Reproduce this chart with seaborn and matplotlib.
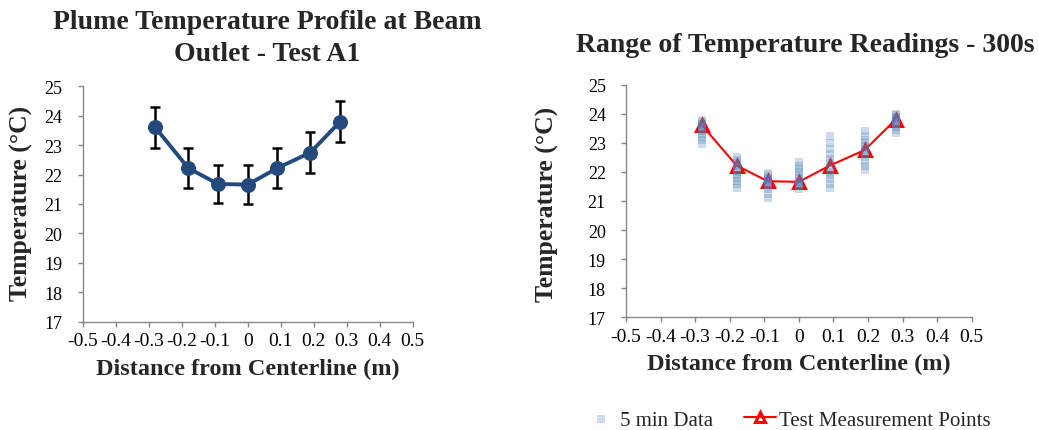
import numpy as np
import pandas as pd
import matplotlib
matplotlib.use("Agg")
import matplotlib.pyplot as plt
import seaborn as sns

sns.set_style("white")
plt.rcParams["font.family"] = ["Liberation Serif", "DejaVu Serif"]

# Measured plume temperatures across the beam outlet
positions = [-0.28, -0.18, -0.09, 0.0, 0.09, 0.19, 0.28]
temps = [23.6, 22.22, 21.68, 21.66, 22.22, 22.75, 23.8]
temp_err = [0.7, 0.68, 0.65, 0.65, 0.68, 0.68, 0.7]

# Temperature readings logged over 5 minutes at each position
readings_m028 = [22.95, 23.1, 23.2, 23.3, 23.4, 23.45, 23.5, 23.55, 23.6, 23.65, 23.7, 23.8]
readings_m018 = [21.45, 21.6, 21.7, 21.8, 21.9, 22.0, 22.1, 22.2, 22.25, 22.3, 22.4, 22.5]
readings_m009 = [21.1, 21.25, 21.4, 21.5, 21.55, 21.6, 21.65, 21.7, 21.75, 21.8, 21.9, 21.95]
readings_000 = [21.4, 21.5, 21.55, 21.6, 21.65, 21.7, 21.8, 21.9, 22.0, 22.1, 22.2, 22.35]
readings_p009 = [21.45, 21.6, 21.75, 21.9, 22.0, 22.15, 22.3, 22.45, 22.6, 22.8, 23.0, 23.25]
readings_p019 = [22.05, 22.2, 22.35, 22.5, 22.6, 22.7, 22.8, 22.9, 23.0, 23.1, 23.25, 23.4]
readings_p028 = [23.35, 23.45, 23.55, 23.6, 23.65, 23.7, 23.75, 23.8, 23.85, 23.9, 23.95, 24.0]

x_ticks = [-0.5, -0.4, -0.3, -0.2, -0.1, 0.0, 0.1, 0.2, 0.3, 0.4, 0.5]
x_tick_labels = ["-0.5", "-0.4", "-0.3", "-0.2", "-0.1", "0", "0.1", "0.2", "0.3", "0.4", "0.5"]
y_ticks = list(range(17, 26))

profile = pd.DataFrame({"x": positions, "t": temps, "err": temp_err})
all_readings = [readings_m028, readings_m018, readings_m009, readings_000,
                readings_p009, readings_p019, readings_p028]
five_min = pd.DataFrame(
    [(p, v) for p, vals in zip(positions, all_readings) for v in vals],
    columns=["x", "t"],
)

W, H = 1039, 431
fig = plt.figure(figsize=(W / 100, H / 100), dpi=100)
ax1 = fig.add_axes([82.7 / W, 1 - 322.7 / H, 330 / W, 235.4 / H])
ax2 = fig.add_axes([626 / W, 1 - 318.3 / H, 345.7 / W, 232.6 / H])

axis_gray = "#868686"


def style_axes(ax, ylabel_x, ylabel_y):
    ax.set_xlim(-0.5, 0.5)
    ax.set_ylim(17, 25)
    ax.set_xticks(x_ticks)
    ax.set_xticklabels(x_tick_labels)
    ax.set_yticks(y_ticks)
    for side in ("top", "right"):
        ax.spines[side].set_visible(False)
    for side in ("left", "bottom"):
        ax.spines[side].set_color(axis_gray)
        ax.spines[side].set_linewidth(1.0)
    ax.tick_params(axis="both", direction="out", length=3.5, width=1.0,
                   color=axis_gray, labelcolor="black",
                   left=True, bottom=True)
    ax.tick_params(axis="x", labelsize=14, pad=4)
    ax.tick_params(axis="y", labelsize=13, pad=11)
    ax.set_xlabel("Distance from Centerline (m)", fontsize=17.5,
                  fontweight="bold", labelpad=6)
    ax.set_ylabel("Temperature (°C)", fontsize=18.5, fontweight="bold")
    ax.yaxis.set_label_coords(ylabel_x, ylabel_y)


# Left: profile with error bars
navy = "#23497D"
ax1.errorbar(profile["x"], profile["t"], yerr=profile["err"], fmt="none",
             ecolor="black", elinewidth=1.8, capsize=3.5, capthick=1.8, zorder=2)
sns.lineplot(data=profile, x="x", y="t", ax=ax1, color=navy, linewidth=2.8,
             marker="o", markersize=10, markeredgecolor=navy, sort=False, zorder=3)
style_axes(ax1, -0.1506, 0.505)
fig.text(267 / W, 1 - 38.5 / H, "Plume Temperature Profile at Beam\nOutlet - Test A1",
         ha="center", va="center", fontsize=20, fontweight="bold", linespacing=1.34)

# Right: spread of readings against the test points
sns.lineplot(data=profile, x="x", y="t", ax=ax2, color="#FF0000", linewidth=1.5,
             marker="^", markersize=8.5, markerfacecolor="none",
             markeredgecolor="#FF0000", markeredgewidth=2.2, sort=False,
             label="Test Measurement Points", zorder=2)
sns.scatterplot(data=five_min, x="x", y="t", ax=ax2, marker="s", s=36,
                color="#4F81BD", alpha=0.28, linewidth=0, label="5 min Data", zorder=3)
style_axes(ax2, -0.195, 0.488)
fig.text(805 / W, 1 - 45 / H, "Range of Temperature Readings - 300s",
         ha="center", va="center", fontsize=20, fontweight="bold")

handles, labels = ax2.get_legend_handles_labels()
ax2.get_legend().remove()
order = [labels.index("5 min Data"), labels.index("Test Measurement Points")]
fig.legend([handles[i] for i in order], [labels[i] for i in order],
           loc="center", bbox_to_anchor=(788 / W, 1 - 421 / H), ncol=2, frameon=False,
           fontsize=15, columnspacing=1.5, handlelength=1.5, handletextpad=0.15,
           markerscale=0.85)

fig.savefig("out.png", dpi=100)
